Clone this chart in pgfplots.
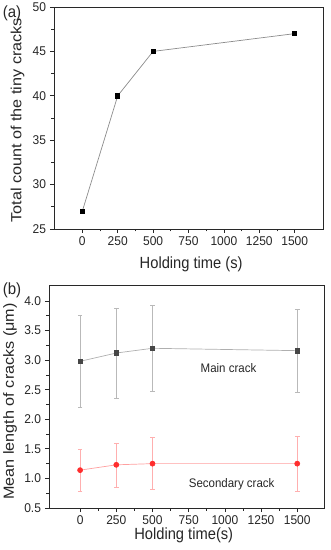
\documentclass[border=0pt]{standalone}
\usepackage{fontspec}
\setmainfont{Liberation Sans}
\usepackage{pgfplots}
\usepackage{pgfplotstable}
\pgfplotsset{compat=1.18}
\definecolor{axgray}{RGB}{40,40,40}
\definecolor{lineA}{RGB}{140,140,140}
\definecolor{mainmark}{RGB}{70,70,70}
\definecolor{mainline}{RGB}{175,175,175}
\definecolor{mainerr}{RGB}{185,185,185}
\definecolor{redmark}{RGB}{255,45,45}
\definecolor{redline}{RGB}{255,160,160}
\definecolor{rederr}{RGB}{255,175,175}

\pgfplotstableread{
x y
0 27
250 40
500 45
1500 47
}\tabA

\pgfplotstableread{
x y ep em
0 2.98 0.78 0.78
250 3.12 0.755 0.76
500 3.20 0.73 0.725
1500 3.16 0.69 0.70
}\tabMain

\pgfplotstableread{
x y ep em
0 1.14 0.35 0.355
250 1.23 0.37 0.38
500 1.25 0.445 0.44
1500 1.25 0.46 0.47
}\tabSec

\pgfplotsset{
  myax/.style={
    scale only axis,
    axis line style={axgray, line width=0.8bp},
    tick style={axgray, line width=0.7bp},
    tick align=outside,
    xtick pos=left, ytick pos=left,
    major tick length=4bp, minor tick length=2.5bp,
    minor x tick num=1, minor y tick num=1,
    xmin=-200, xmax=1700,
    xtick={0,250,500,750,1000,1250,1500},
    tick label style={font=\fontsize{12bp}{13bp}\selectfont, text=black!85, yscale=1.06},
    yticklabel style={xshift=-0.5bp},
    /pgf/number format/assume math mode=true,
    /pgf/number format/1000 sep={},
    label style={font=\fontsize{14.7bp}{17bp}\selectfont, text=black!85},
    xlabel style={yscale=1.1},
  }
}

\begin{document}
\begin{tikzpicture}
\useasboundingbox (0,0) rectangle (331bp,550bp);

\begin{axis}[myax,
  at={(54bp,321bp)}, anchor=south west,
  width=269bp, height=222bp,
  ymin=25, ymax=50, ytick={25,30,35,40,45,50},
  xlabel={Holding time (s)},
  ylabel={Total count of the tiny cracks},
  xlabel style={at={(axis description cs:0.51,-0.158)}, anchor=center},
  ylabel style={at={(axis description cs:-0.135,0.49)}, anchor=center, xscale=1.1},
]
\addplot[lineA, line width=0.7bp, mark=square*, mark size=2.1bp, mark options={black, fill=black, solid}] table[x=x,y=y]{\tabA};
\end{axis}

\begin{axis}[myax,
  at={(49bp,42bp)}, anchor=south west,
  width=275bp, height=223bp,
  xmin=-215, xmax=1685,
  ymin=0.5, ymax=4.27, ytick={0.5,1.0,...,4.0},
  yticklabel style={/pgf/number format/.cd, fixed, fixed zerofill, precision=1},
  xlabel={Holding time(s)},
  ylabel={Mean length of cracks (μm)},
  xlabel style={at={(axis description cs:0.49,-0.121)}, anchor=center},
  ylabel style={at={(axis description cs:-0.142,0.478)}, anchor=center, xscale=1.1},
]
\addplot[mainline, line width=0.7bp, mark=square*, mark size=2.2bp, mark options={mainmark, fill=mainmark, solid},
  error bars/.cd, y dir=both, y explicit,
  error bar style={mainerr, line width=0.7bp},
  error mark options={mainerr, rotate=90, mark size=2.3bp, line width=0.7bp}]
  table[x=x, y=y, y error plus=ep, y error minus=em]{\tabMain};
\addplot[redline, line width=0.7bp, mark=*, mark size=2.5bp, mark options={redmark, fill=redmark, solid, draw=redmark},
  error bars/.cd, y dir=both, y explicit,
  error bar style={rederr, line width=0.7bp},
  error mark options={rederr, rotate=90, mark size=2.3bp, line width=0.7bp}]
  table[x=x, y=y, y error plus=ep, y error minus=em]{\tabSec};
\node[font=\fontsize{11.5bp}{13bp}\selectfont, text=black!85, yscale=1.08] at (axis cs:1025,2.87) {Main crack};
\node[font=\fontsize{11.5bp}{13bp}\selectfont, text=black!85, yscale=1.08] at (axis cs:1047,0.907) {Secondary crack};
\end{axis}

\node[font=\fontsize{15bp}{17bp}\selectfont, text=black!85, yscale=1.08] at (12bp,537bp) {(a)};
\node[font=\fontsize{15bp}{17bp}\selectfont, text=black!85, yscale=1.08] at (12bp,260bp) {(b)};
\end{tikzpicture}
\end{document}
